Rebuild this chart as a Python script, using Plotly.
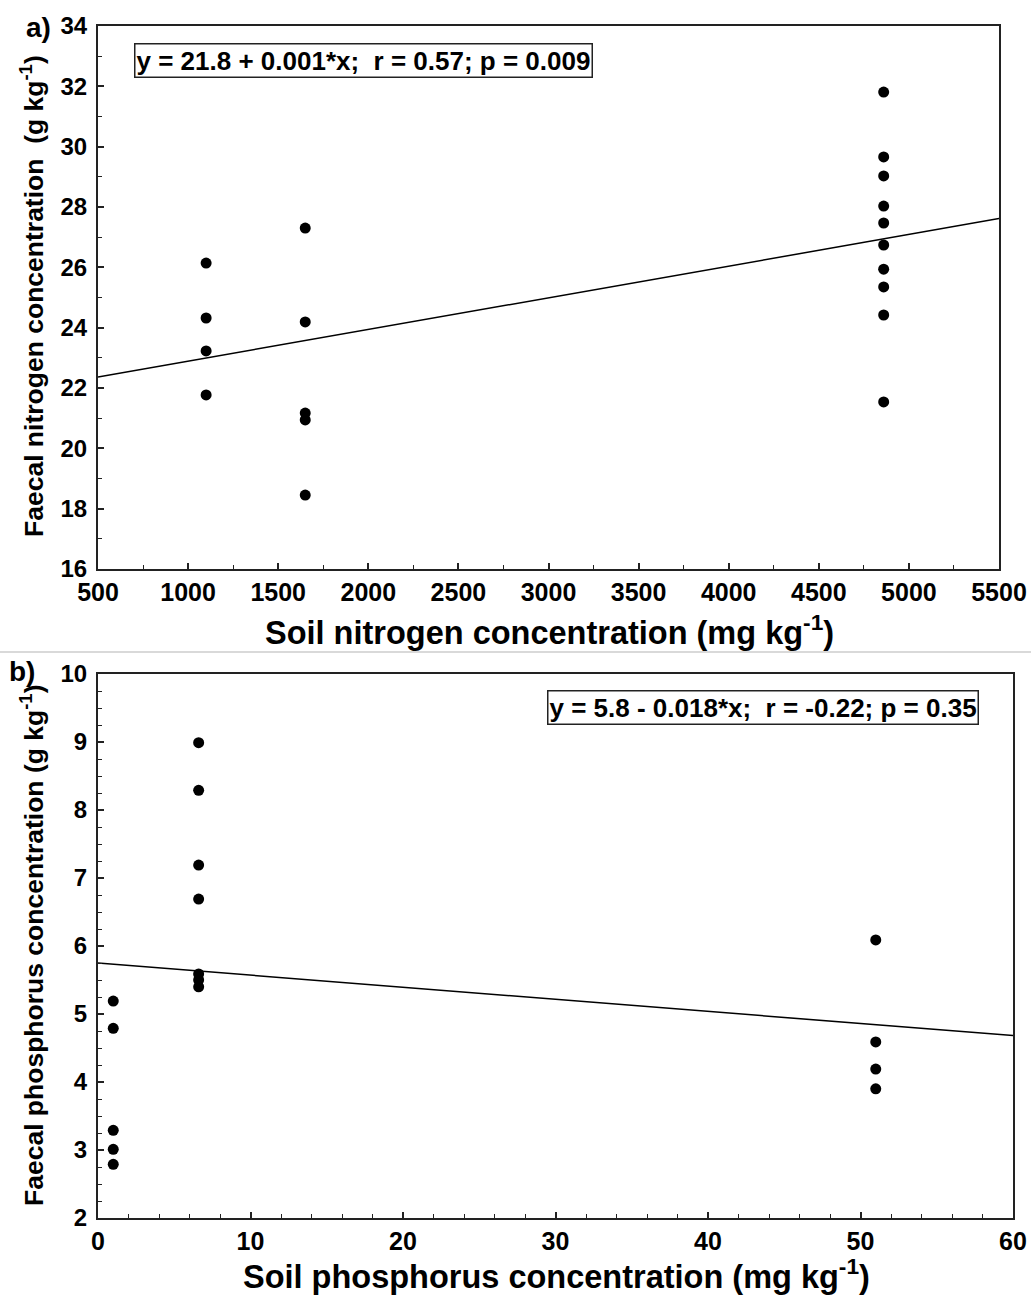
import plotly.graph_objects as go

W, H = 1031, 1295

# ---- Data: panel a (nitrogen) ----
soil_n = [1100, 1100, 1100, 1100,
          1650, 1650, 1650, 1650, 1650,
          4860, 4860, 4860, 4860, 4860, 4860, 4860, 4860, 4860, 4860]
faecal_n = [26.14, 24.32, 23.23, 21.77,
            27.30, 24.19, 21.17, 20.94, 18.45,
            31.81, 29.66, 29.03, 28.03, 27.47, 26.74, 25.94, 25.35, 24.42, 21.54]
n_intercept, n_slope = 21.84, 0.00105
n_xrange = [500, 5500]
n_yrange = [16, 34]

# ---- Data: panel b (phosphorus) ----
soil_p = [1, 1, 1, 1, 1,
          6.6, 6.6, 6.6, 6.6, 6.6, 6.6, 6.6,
          51, 51, 51, 51]
faecal_p = [5.19, 4.79, 3.29, 3.01, 2.79,
            8.99, 8.29, 7.19, 6.69, 5.59, 5.50, 5.40,
            6.09, 4.59, 4.19, 3.90]
p_intercept, p_slope = 5.75, -0.0178
p_xrange = [0, 60]
p_yrange = [2, 10]

eq_a = "y = 21.8 + 0.001*x;  r = 0.57; p = 0.009"
eq_b = "y = 5.8 - 0.018*x;  r = -0.22; p = 0.35"

FONT = "Liberation Sans, Arial, sans-serif"

def px(x):
    return x / W

def py(y):
    return 1 - y / H

fig = go.Figure()

marker = dict(color="black", size=11, symbol="circle")
fig.add_trace(go.Scatter(x=soil_n, y=faecal_n, mode="markers", marker=marker,
                         xaxis="x", yaxis="y", showlegend=False))
fig.add_trace(go.Scatter(x=n_xrange, y=[n_intercept + n_slope * v for v in n_xrange],
                         mode="lines", line=dict(color="black", width=1.5),
                         xaxis="x", yaxis="y", showlegend=False))

fig.add_trace(go.Scatter(x=soil_p, y=faecal_p, mode="markers", marker=marker,
                         xaxis="x2", yaxis="y2", showlegend=False))
fig.add_trace(go.Scatter(x=p_xrange, y=[p_intercept + p_slope * v for v in p_xrange],
                         mode="lines", line=dict(color="black", width=1.5),
                         xaxis="x2", yaxis="y2", showlegend=False))

xtickfont = dict(family=FONT, size=25, color="black", weight="bold")
ytickfont = dict(family=FONT, size=24, color="black", weight="bold")

def axis_common(rng, dtick, minor_dtick, font):
    return dict(range=rng, dtick=dtick, tick0=rng[0], showgrid=False, zeroline=False,
                automargin=False, ticklabeloverflow="allow",
                showline=True, linecolor="#222", linewidth=2, mirror=True,
                ticks="inside", ticklen=6, tickwidth=1.5, tickcolor="#222",
                tickfont=font,
                minor=dict(dtick=minor_dtick, ticks="inside", ticklen=4,
                           tickwidth=1, tickcolor="#222", showgrid=False))

xa = axis_common(n_xrange, 500, 250, xtickfont)
xa.update(domain=[px(98), px(999)], anchor="y", ticklabelstandoff=0)
ya = axis_common(n_yrange, 2, 1, ytickfont)
ya.update(domain=[py(569), py(26)], anchor="x", ticklabelstandoff=4)

xa2 = axis_common(p_xrange, 10, 2, xtickfont)
xa2.update(domain=[px(98), px(1013)], anchor="y2", ticklabelstandoff=0)
ya2 = axis_common(p_yrange, 1, 0.25, ytickfont)
ya2.update(domain=[py(1218), py(674)], anchor="x2", ticklabelstandoff=4)

titlefont = dict(family=FONT, size=32.5, color="black", weight="bold")
ytitlefont = dict(family=FONT, size=26.5, color="black", weight="bold")
eqfont = dict(family=FONT, size=26, color="black", weight="bold")

def ann(text, x, y, font, angle=0, **kw):
    d = dict(text=text, x=px(x), y=py(y), xref="paper", yref="paper",
             xanchor="center", yanchor="middle", showarrow=False,
             font=font, textangle=angle)
    d.update(kw)
    return d

annotations = [
    ann(eq_a, 363, 61, eqfont, bordercolor="#222", borderwidth=1.5, borderpad=1,
        bgcolor="white"),
    ann(eq_b, 763, 707, eqfont, bordercolor="#222", borderwidth=1.5, borderpad=1,
        bgcolor="white"),
    ann("Faecal nitrogen concentration  (g kg<sup>-1</sup>)", 32, 296, ytitlefont, -90),
    ann("Faecal phosphorus concentration (g kg<sup>-1</sup>)", 32, 945, ytitlefont, -90),
    ann("Soil nitrogen concentration (mg kg<sup>-1</sup>)", 549, 630, titlefont),
    ann("Soil phosphorus concentration (mg kg<sup>-1</sup>)", 556, 1274, titlefont),
    ann("a)", 38, 27, dict(family=FONT, size=28, color="black", weight="bold")),
    ann("b)", 22, 671, dict(family=FONT, size=28, color="black", weight="bold")),
]

shapes = [
    dict(type="line", xref="paper", yref="paper", x0=0, x1=1,
         y0=py(652), y1=py(652), line=dict(color="#cccccc", width=1.5)),
]

fig.update_layout(
    width=W, height=H,
    margin=dict(l=0, r=0, t=0, b=0, pad=0),
    paper_bgcolor="white", plot_bgcolor="white",
    font=dict(family=FONT, size=20, color="black"),
    xaxis=xa, yaxis=ya, xaxis2=xa2, yaxis2=ya2,
    annotations=annotations, shapes=shapes,
    showlegend=False,
)

# remove the default page margin so the figure fills the window exactly
fig.write_html("out.html",
               config={"displayModeBar": False},
               post_script="document.body.style.margin='0';document.body.style.overflow='hidden';")
